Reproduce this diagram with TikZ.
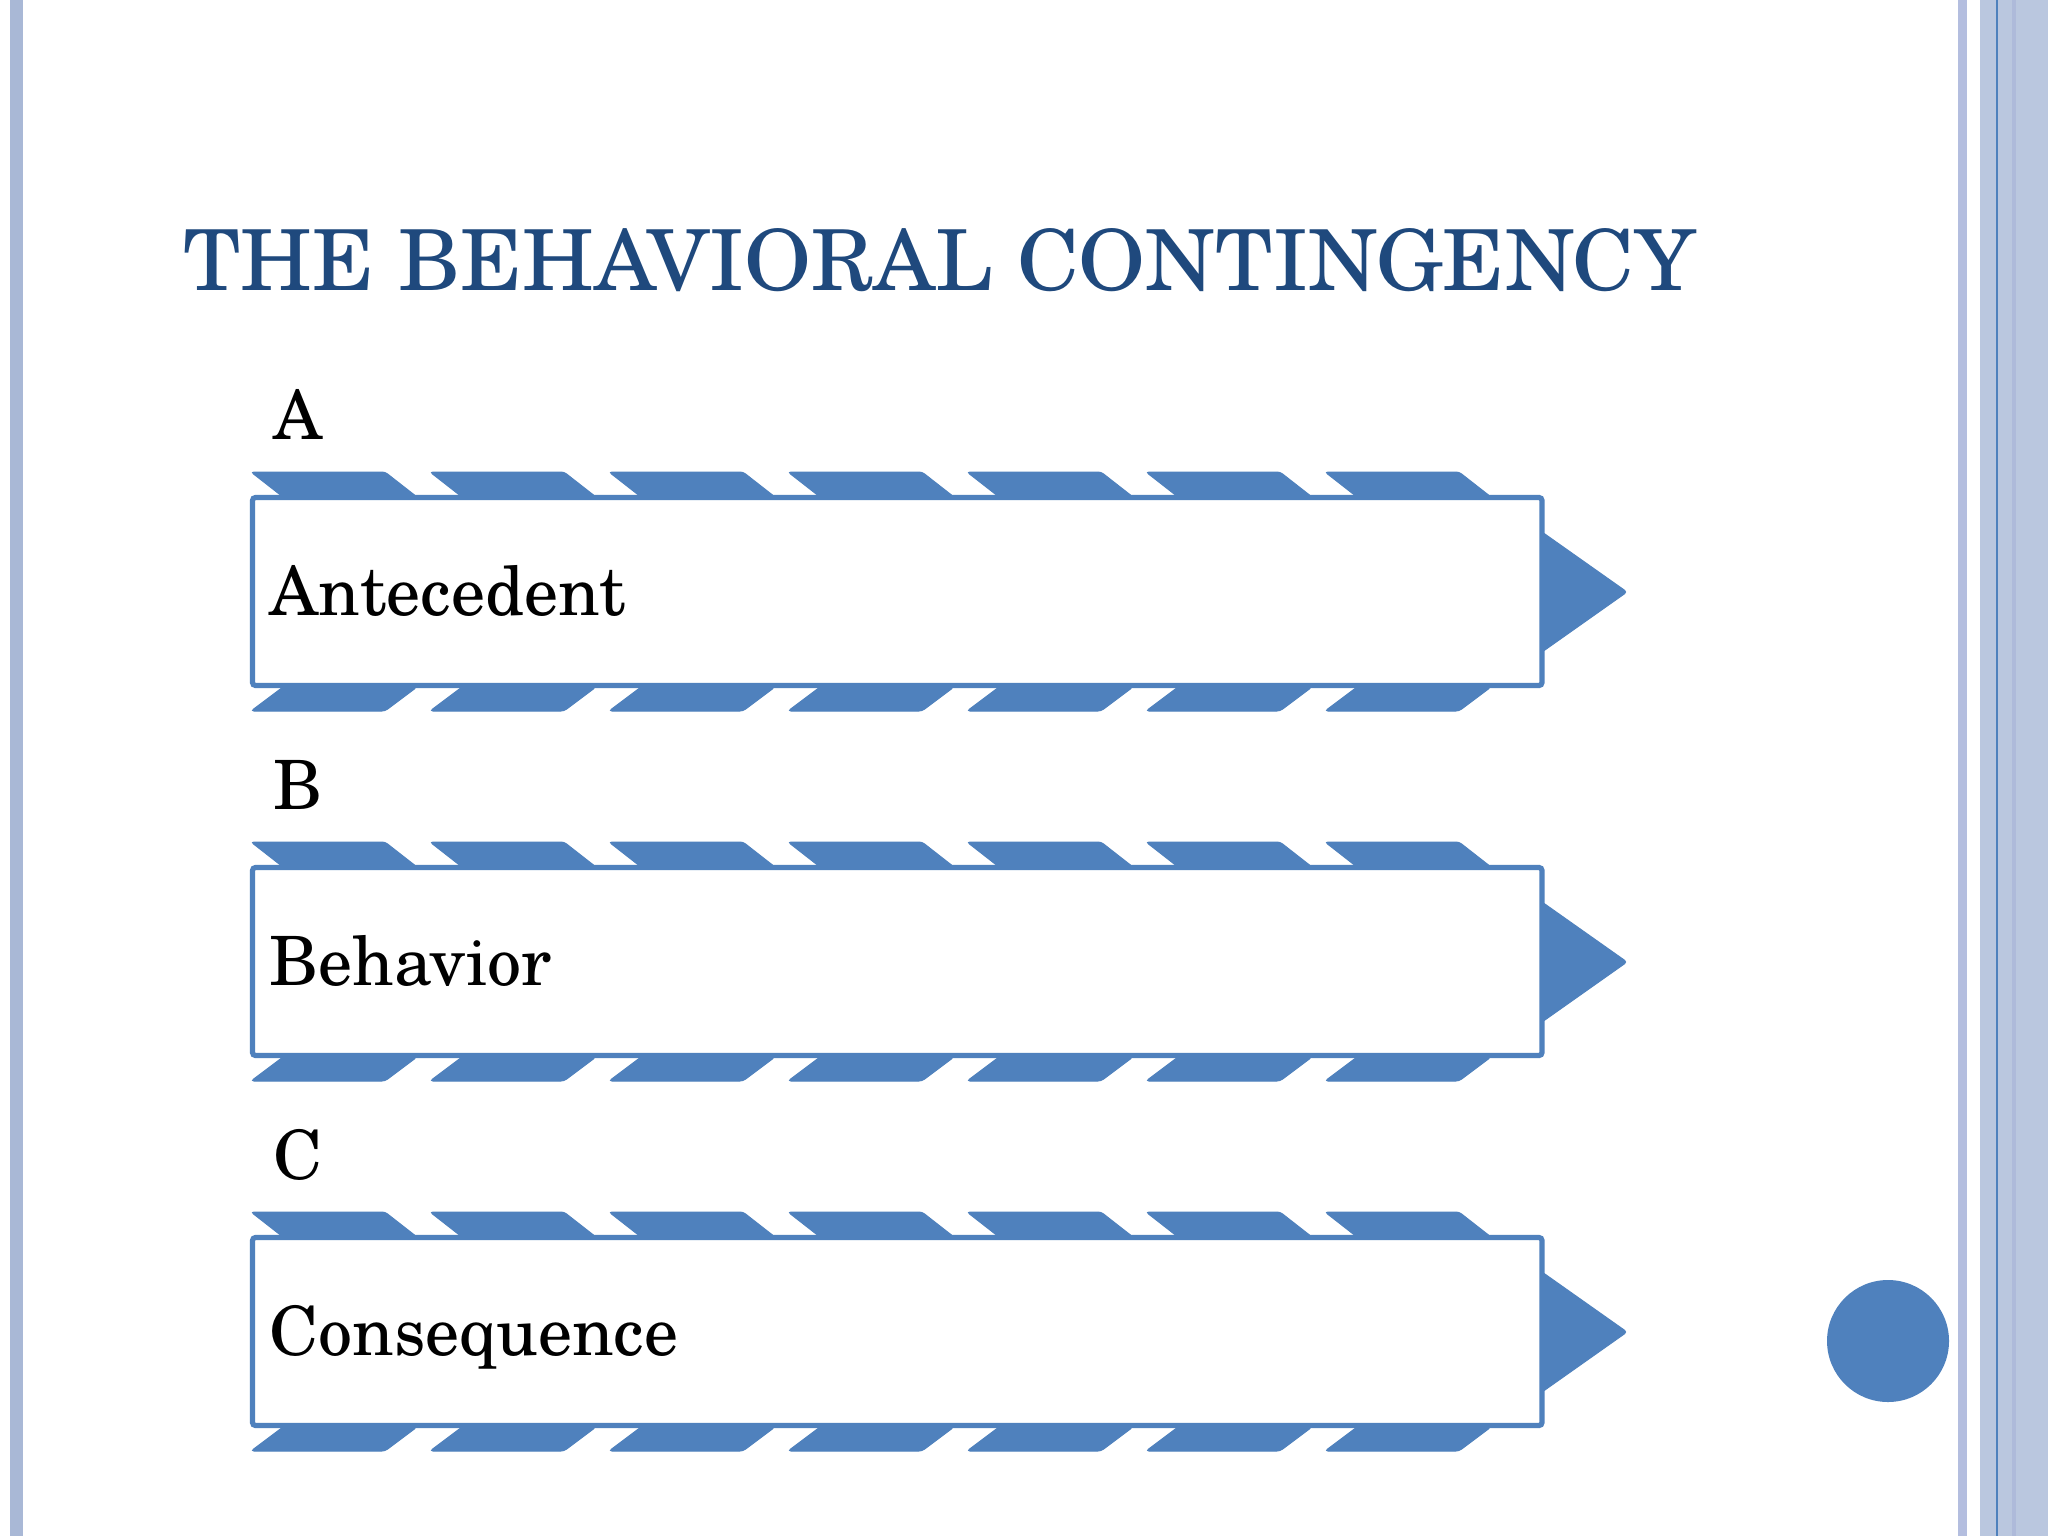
\documentclass[tikz,border=0pt]{standalone}
\usepackage{graphicx}
\usepackage{fontspec}
\newfontfamily\schola{TeX Gyre Schola}
\definecolor{accent}{HTML}{4F81BD}
\definecolor{titleblue}{HTML}{1F497D}
\definecolor{stripeL}{HTML}{A9B8D6}
\definecolor{stripeLav}{HTML}{B4BEDF}
\definecolor{stripeR}{HTML}{BAC7DF}
\definecolor{stripeRd}{HTML}{AEBADA}
\tikzset{
  tab/.style={fill=accent, draw=accent, line width=0.5pt, rounded corners=1.5pt},
  framebox/.style={draw=accent, fill=white, line width=2.6pt, rounded corners=1.5pt},
  tip/.style={fill=accent, draw=accent, line width=0.5pt, rounded corners=1.5pt},
  letter/.style={inner sep=0pt, anchor=base west, font=\schola\fontsize{34}{41}\selectfont},
  label/.style={inner sep=0pt, anchor=base west, font=\schola\fontsize{34}{41}\selectfont},
}
\begin{document}
\begin{tikzpicture}[x=0.5pt,y=-0.5pt]
\useasboundingbox (0,0) rectangle (2048,1536);
\fill[white] (0,0) rectangle (2048,1536);
% side stripes
\fill[stripeL] (10,0) rectangle (23,1536);
\fill[stripeLav] (1958,0) rectangle (1967,1536);
\fill[stripeR] (1980,0) rectangle (2048,1536);
\fill[stripeRd] (2012,0) rectangle (2016,1536);
\fill[accent] (1996,0) rectangle (1998,1536);
% title
\node[inner sep=0pt, anchor=base west, text=titleblue] (title) at (183,290)
  {\resizebox{756pt}{31pt}{\schola\fontsize{43}{52}\selectfont THE BEHAVIORAL CONTINGENCY}};
% rows
\foreach \k/\L/\T in {0/A/Antecedent, 1/B/Behavior, 2/C/Consequence}{
  \pgfmathsetmacro{\d}{370*\k}
  \foreach \i in {0,...,6}{
    \pgfmathsetmacro{\xo}{251+179*\i}
    \draw[tab] (\xo,472+\d) -- (\xo+134,472+\d) -- (\xo+166,497+\d) -- (\xo+32,497+\d) -- cycle;
    \draw[tab] (\xo+32,687+\d) -- (\xo+166,687+\d) -- (\xo+134,711+\d) -- (\xo,711+\d) -- cycle;
  }
  \draw[tip] (1542,532+\d) -- (1627,592+\d) -- (1542,652+\d) -- cycle;
  \draw[framebox] (252.5,497.5+\d) rectangle (1542,685.5+\d);
  \node[letter] (letter\k) at (273,439+\d) {\L};
  \node[label] (label\k) at (269,615+\d) {\T};
}
% circle
\fill[accent] (1888,1341) circle (61);
\end{tikzpicture}
\end{document}
